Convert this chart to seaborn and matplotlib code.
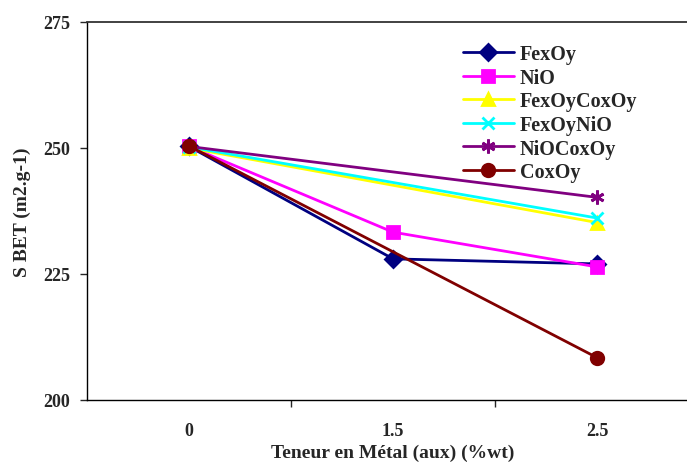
import matplotlib
matplotlib.use("Agg")
import matplotlib.pyplot as plt
import numpy as np
import pandas as pd
import seaborn as sns

# données
teneurs = ["0", "1.5", "2.5"]
fexoy = [250.3, 228.0, 227.0]
nio = [250.3, 233.3, 226.4]
fexoy_coxoy = [250.0, np.nan, 235.2]
fexoy_nio = [250.2, np.nan, 236.1]
nio_coxoy = [250.3, np.nan, 240.2]
coxoy = [250.4, np.nan, 208.4]

series = {
    "FexOy": fexoy,
    "NiO": nio,
    "FexOyCoxOy": fexoy_coxoy,
    "FexOyNiO": fexoy_nio,
    "NiOCoxOy": nio_coxoy,
    "CoxOy": coxoy,
}
styles = {
    "FexOy": ("#000080", "D", 8),
    "NiO": ("#FF00FF", "s", 8),
    "FexOyCoxOy": ("#FFFF00", "^", 9),
    "FexOyNiO": ("#00FFFF", "x", 9),
    "NiOCoxOy": ("#800080", (6, 2, 0), 10),
    "CoxOy": ("#800000", "o", 9),
}

rows = []
for name, vals in series.items():
    for i, v in enumerate(vals):
        if not np.isnan(v):
            rows.append({"serie": name, "pos": i, "sbet": v})
df = pd.DataFrame(rows)

sns.set_style("white")
plt.rcParams["font.family"] = ["Liberation Serif", "DejaVu Serif"]
plt.rcParams["font.weight"] = "bold"

fig = plt.figure(figsize=(6.87, 4.64), dpi=100)
ax = fig.add_axes([0.1266, 0.1358, 0.891, 0.8147])

for name in series:
    color, marker, ms = styles[name]
    sub = df[df["serie"] == name]
    sns.lineplot(data=sub, x="pos", y="sbet", ax=ax, color=color, marker=marker,
                 markersize=ms, markeredgecolor=color, markeredgewidth=2,
                 linewidth=2, label=name, legend=False)

ax.set_xlim(-0.5, 2.5)
ax.set_ylim(200, 275)
ax.set_yticks([200, 225, 250, 275])
ax.set_xticks(range(len(teneurs)))
ax.set_xticklabels(teneurs)
ax.set_xticks([0.5, 1.5], minor=True)
ax.tick_params(axis="x", which="major", length=0, pad=16, labelsize=13)
ax.tick_params(axis="x", which="minor", length=5, width=1, direction="out", bottom=True)
ax.tick_params(axis="y", length=5, width=1, direction="out", left=True, labelsize=13, pad=7)

for s in ["left", "bottom"]:
    ax.spines[s].set_color("black")
    ax.spines[s].set_linewidth(1)
ax.spines["right"].set_visible(False)
ax.spines["top"].set_color("#333333")
ax.spines["top"].set_linewidth(1.3)

ax.set_xlabel("Teneur en Métal (aux) (%wt)", fontsize=14, fontweight="bold", labelpad=3)
ax.set_ylabel("S BET (m2.g-1)", fontsize=14, fontweight="bold", labelpad=9)

handles, labels = ax.get_legend_handles_labels()
fig.legend(handles, labels, loc="upper left", bbox_to_anchor=(0.648, 0.942),
           frameon=False, handlelength=2.5, labelspacing=0.18,
           handletextpad=0.3, prop={"weight": "bold", "size": 14.5})

fig.savefig("out.png", dpi=100)
